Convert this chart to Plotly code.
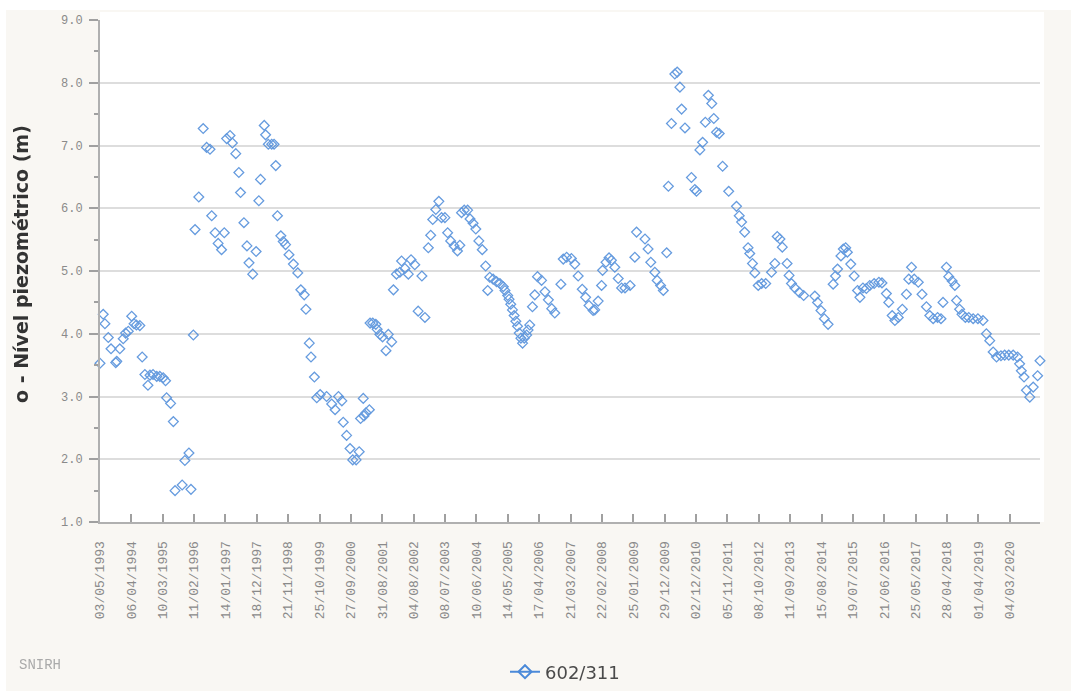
import pandas as pd
import plotly.graph_objects as go

# Sampling times (decimal years) and piezometric level (m) for well 602/311
years = [
    1993.335, 1993.43, 1993.48, 1993.58, 1993.66, 1993.80, 1993.83, 1993.92, 1994.02, 1994.09,
    1994.17, 1994.27, 1994.34, 1994.41, 1994.51, 1994.58, 1994.66, 1994.75, 1994.81, 1994.90,
    1995.01, 1995.10, 1995.20, 1995.27, 1995.30, 1995.42, 1995.50, 1995.55, 1995.76, 1995.84,
    1995.96, 1996.02, 1996.09, 1996.14, 1996.25, 1996.38, 1996.48, 1996.58, 1996.63, 1996.73,
    1996.82, 1996.92, 1997.00, 1997.07, 1997.17, 1997.24, 1997.34, 1997.43, 1997.48, 1997.58,
    1997.67, 1997.73, 1997.84, 1997.94, 1998.02, 1998.07, 1998.18, 1998.22, 1998.30, 1998.40,
    1998.47, 1998.52, 1998.57, 1998.67, 1998.74, 1998.81, 1998.91, 1999.04, 1999.17, 1999.26,
    1999.36, 1999.41, 1999.51, 1999.56, 1999.66, 1999.73, 1999.83, 2000.02, 2000.17, 2000.27,
    2000.37, 2000.47, 2000.51, 2000.61, 2000.71, 2000.79, 2000.89, 2000.98, 2001.02, 2001.10,
    2001.12, 2001.18, 2001.28, 2001.30, 2001.38, 2001.47, 2001.51, 2001.59, 2001.67, 2001.77,
    2001.84, 2001.94, 2001.99, 2002.08, 2002.18, 2002.23, 2002.33, 2002.43, 2002.51, 2002.62,
    2002.72, 2002.83, 2002.92, 2003.02, 2003.09, 2003.15, 2003.24, 2003.33, 2003.41, 2003.51,
    2003.59, 2003.68, 2003.78, 2003.88, 2003.95, 2004.00, 2004.08, 2004.18, 2004.25, 2004.34,
    2004.42, 2004.51, 2004.61, 2004.71, 2004.77, 2004.83, 2004.93, 2005.03, 2005.13, 2005.23,
    2005.28, 2005.36, 2005.40, 2005.45, 2005.50, 2005.55, 2005.60, 2005.65, 2005.70, 2005.75,
    2005.80, 2005.85, 2005.92, 2005.96, 2006.01, 2006.09, 2006.16, 2006.24, 2006.36, 2006.46,
    2006.56, 2006.66, 2006.75, 2006.93, 2007.00, 2007.10, 2007.24, 2007.34, 2007.44, 2007.56,
    2007.66, 2007.76, 2007.88, 2007.93, 2008.03, 2008.13, 2008.16, 2008.26, 2008.35, 2008.42,
    2008.52, 2008.62, 2008.72, 2008.82, 2008.97, 2009.11, 2009.16, 2009.41, 2009.50, 2009.58,
    2009.70, 2009.77, 2009.87, 2009.95, 2010.05, 2010.10, 2010.19, 2010.29, 2010.36, 2010.44,
    2010.49, 2010.59, 2010.78, 2010.88, 2010.93, 2011.03, 2011.11, 2011.19, 2011.28, 2011.38,
    2011.44, 2011.52, 2011.60, 2011.70, 2011.88, 2012.11, 2012.19, 2012.26, 2012.35, 2012.45,
    2012.50, 2012.58, 2012.65, 2012.75, 2012.85, 2012.97, 2013.14, 2013.24, 2013.31, 2013.39,
    2013.46, 2013.60, 2013.66, 2013.73, 2013.83, 2013.96, 2014.09, 2014.42, 2014.50, 2014.60,
    2014.70, 2014.81, 2014.96, 2015.03, 2015.09, 2015.19, 2015.26, 2015.33, 2015.38, 2015.48,
    2015.58, 2015.68, 2015.75, 2015.84, 2015.94, 2016.04, 2016.17, 2016.31, 2016.40, 2016.53,
    2016.60, 2016.70, 2016.78, 2016.88, 2017.00, 2017.12, 2017.19, 2017.27, 2017.35, 2017.47,
    2017.58, 2017.71, 2017.81, 2017.91, 2018.04, 2018.14, 2018.20, 2018.30, 2018.37, 2018.47,
    2018.55, 2018.60, 2018.69, 2018.76, 2018.86, 2018.96, 2019.09, 2019.23, 2019.38, 2019.48,
    2019.58, 2019.68, 2019.78, 2019.91, 2020.02, 2020.14, 2020.27, 2020.40, 2020.46, 2020.51,
    2020.59, 2020.66, 2020.76, 2020.86, 2020.99, 2021.06,
]

levels = [
    3.53, 4.31, 4.16, 3.94, 3.76, 3.54, 3.56, 3.76, 3.92, 4.01,
    4.04, 4.28, 4.16, 4.14, 4.13, 3.63, 3.35, 3.18, 3.34, 3.35,
    3.32, 3.32, 3.30, 3.25, 2.98, 2.89, 2.60, 1.50, 1.59, 1.98,
    2.10, 1.52, 3.98, 5.66, 6.18, 7.27, 6.97, 6.94, 5.88, 5.61,
    5.44, 5.34, 5.61, 7.11, 7.16, 7.04, 6.87, 6.57, 6.25, 5.77,
    5.40, 5.13, 4.95, 5.31, 6.12, 6.46, 7.32, 7.17, 7.02, 7.02,
    7.02, 6.68, 5.88, 5.56, 5.47, 5.42, 5.26, 5.11, 4.97, 4.70,
    4.62, 4.39, 3.85, 3.63, 3.31, 2.98, 3.03, 3.00, 2.88, 2.79,
    3.00, 2.93, 2.59, 2.38, 2.17, 1.99, 1.99, 2.12, 2.65, 2.97,
    2.69, 2.74, 2.79, 4.17, 4.17, 4.15, 4.07, 3.99, 3.95, 3.73,
    3.99, 3.87, 4.70, 4.95, 4.98, 5.16, 5.04, 4.95, 5.18, 5.10,
    4.36, 4.92, 4.26, 5.37, 5.57, 5.82, 5.98, 6.11, 5.85, 5.85,
    5.61, 5.48, 5.40, 5.32, 5.41, 5.93, 5.97, 5.97, 5.83, 5.76,
    5.67, 5.48, 5.34, 5.08, 4.69, 4.90, 4.87, 4.83, 4.80, 4.75,
    4.69, 4.61, 4.55, 4.47, 4.38, 4.29, 4.20, 4.12, 4.01, 3.93,
    3.85, 3.93, 3.98, 4.06, 4.14, 4.43, 4.62, 4.91, 4.85, 4.67,
    4.54, 4.40, 4.33, 4.79, 5.19, 5.22, 5.20, 5.11, 4.92, 4.71,
    4.58, 4.45, 4.37, 4.38, 4.52, 4.77, 5.01, 5.14, 5.21, 5.17,
    5.06, 4.88, 4.73, 4.73, 4.77, 5.22, 5.62, 5.51, 5.35, 5.14,
    4.98, 4.85, 4.77, 4.69, 5.29, 6.35, 7.35, 8.14, 8.17, 7.93,
    7.58, 7.28, 6.49, 6.30, 6.27, 6.93, 7.05, 7.37, 7.80, 7.67,
    7.43, 7.21, 7.19, 6.67, 6.27, 6.03, 5.88, 5.78, 5.62, 5.37,
    5.28, 5.12, 4.97, 4.77, 4.80, 4.80, 4.98, 5.12, 5.55, 5.51,
    5.38, 5.12, 4.93, 4.80, 4.73, 4.66, 4.61, 4.60, 4.50, 4.37,
    4.24, 4.15, 4.79, 4.92, 5.03, 5.24, 5.35, 5.37, 5.30, 5.11,
    4.92, 4.69, 4.58, 4.73, 4.72, 4.77, 4.80, 4.82, 4.81, 4.64,
    4.50, 4.29, 4.21, 4.26, 4.39, 4.63, 4.87, 5.06, 4.87, 4.82,
    4.63, 4.43, 4.29, 4.24, 4.26, 4.24, 4.50, 5.06, 4.91, 4.84,
    4.77, 4.53, 4.39, 4.31, 4.26, 4.26, 4.24, 4.24, 4.21, 4.00,
    3.89, 3.71, 3.63, 3.65, 3.66, 3.66, 3.66, 3.63, 3.52, 3.41,
    3.31, 3.10, 2.99, 3.15, 3.33, 3.57,
]

date_ticks = [
    "03/05/1993", "06/04/1994", "10/03/1995", "11/02/1996", "14/01/1997",
    "18/12/1997", "21/11/1998", "25/10/1999", "27/09/2000", "31/08/2001",
    "04/08/2002", "08/07/2003", "10/06/2004", "14/05/2005", "17/04/2006",
    "21/03/2007", "22/02/2008", "25/01/2009", "29/12/2009", "02/12/2010",
    "05/11/2011", "08/10/2012", "11/09/2013", "15/08/2014", "19/07/2015",
    "21/06/2016", "25/05/2017", "28/04/2018", "01/04/2019", "04/03/2020",
]

level_ticks = [1, 2, 3, 4, 5, 6, 7, 8, 9]


def to_timestamp(y):
    yr = int(y)
    start = pd.Timestamp(yr, 1, 1)
    end = pd.Timestamp(yr + 1, 1, 1)
    return start + (end - start) * (y - yr)


dates = [to_timestamp(y) for y in years]
tick_dates = pd.to_datetime(date_ticks, format="%d/%m/%Y")

BLUE = "#4b8ad9"
MONO = "Liberation Mono, DejaVu Sans Mono, monospace"

# plot area in pixels
W, H = 1071, 691
L, R, T, B = 100, 31, 20, 169
PW, PH = W - L - R, H - T - B


def px_x(x):
    return (x - L) / PW


def px_y(y):
    return (H - B - y) / PH


fig = go.Figure()

fig.add_trace(go.Scatter(
    x=dates, y=levels, mode="markers", showlegend=False,
    marker=dict(symbol="diamond-open", size=7.5, color=BLUE, line=dict(width=1.3, color=BLUE)),
    opacity=0.85, cliponaxis=False,
))

# legend entry drawn as line + diamond
fig.add_trace(go.Scatter(
    x=[None], y=[None], mode="lines+markers", name="602/311",
    line=dict(color=BLUE, width=2),
    marker=dict(symbol="diamond-open", size=10, color=BLUE, line=dict(width=2, color=BLUE)),
))

fig.update_layout(
    width=W, height=H,
    margin=dict(l=L, r=R, t=T, b=B, autoexpand=False),
    paper_bgcolor="white",
    plot_bgcolor="white",
    showlegend=True,
    legend=dict(orientation="h", x=px_x(565), xanchor="center", y=px_y(672), yanchor="middle",
                itemwidth=30,
                font=dict(family="DejaVu Sans", size=18, color="#4a4a4a"),
                bgcolor="rgba(0,0,0,0)"),
    shapes=[dict(type="rect", xref="paper", yref="paper", layer="below",
                 x0=px_x(6), x1=px_x(W), y0=px_y(H), y1=px_y(10),
                 fillcolor="#f9f7f3", line=dict(width=0)),
            dict(type="rect", xref="paper", yref="paper", layer="below",
                 x0=0, x1=px_x(1044), y0=0, y1=px_y(12), fillcolor="white", line=dict(width=0))],
    annotations=[
        dict(text="<b>o - Nível piezométrico (m)</b>", xref="paper", yref="paper",
             x=px_x(21), y=px_y(264), xanchor="center", yanchor="middle", textangle=-90,
             showarrow=False, font=dict(family="DejaVu Sans", size=19, color="#333333")),
        dict(text="SNIRH", xref="paper", yref="paper", x=px_x(17), y=px_y(665),
             xanchor="left", yanchor="middle", showarrow=False,
             font=dict(family=MONO, size=14, color="#aaaaaa")),
    ],
)

fig.update_xaxes(
    type="date",
    range=[min(dates), max(dates)],
    tickmode="array", tickvals=tick_dates, ticktext=date_ticks,
    tickangle=-90, ticks="inside", ticklen=8, tickcolor="#a0a0a0", tickwidth=1.5,
    ticklabelstandoff=12,
    tickfont=dict(family=MONO, size=13, color="#8a8a8a"),
    showline=True, linecolor="#b0b0b0", linewidth=2,
    showgrid=False, zeroline=False,
)

fig.update_yaxes(
    range=[1, 9],
    tickmode="array", tickvals=level_ticks, ticktext=[f"{v:.1f}" for v in level_ticks],
    ticks="outside", ticklen=9, tickcolor="#a0a0a0", tickwidth=1.5,
    ticklabelstandoff=4,
    minor=dict(dtick=0.5, ticks="outside", ticklen=4, tickcolor="#a0a0a0", showgrid=False),
    tickfont=dict(family=MONO, size=12, color="#8a8a8a"),
    showline=True, linecolor="#b0b0b0", linewidth=2,
    showgrid=True, gridcolor="#dddddd", gridwidth=1.5, zeroline=False,
)

fig.write_html("out.html")
